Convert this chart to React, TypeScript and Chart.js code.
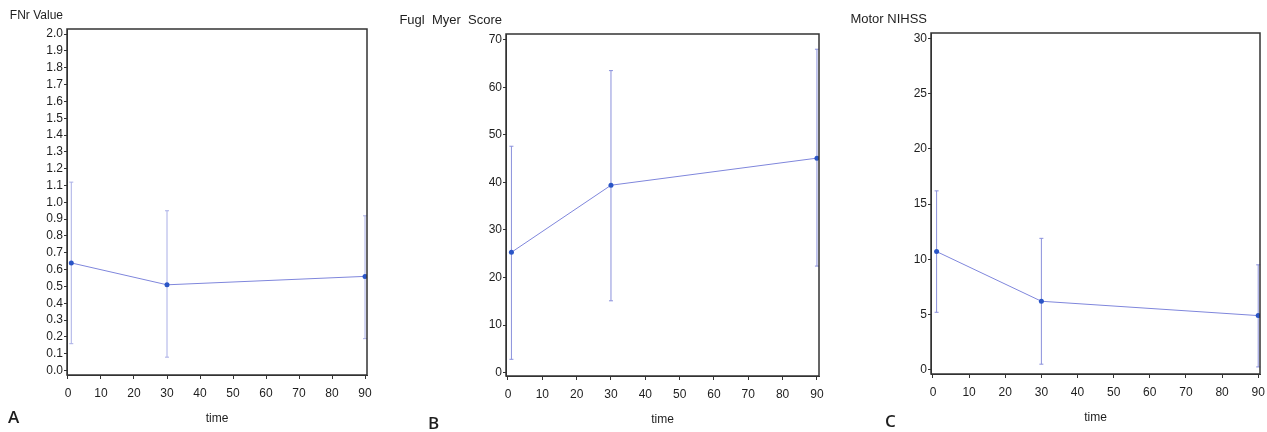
import React, { useEffect, useRef } from "react";
import { Chart, registerables } from "chart.js";

Chart.register(...registerables);

// ---- data ----
const times = [1, 30, 90];
const xTicks = [0, 10, 20, 30, 40, 50, 60, 70, 80, 90];

const fnrMean = [0.64, 0.51, 0.56];
const fnrLow = [0.16, 0.08, 0.19];
const fnrHigh = [1.12, 0.95, 0.92];
const fnrTicks = [0, 0.1, 0.2, 0.3, 0.4, 0.5, 0.6, 0.7, 0.8, 0.9, 1.0, 1.1, 1.2, 1.3, 1.4, 1.5, 1.6, 1.7, 1.8, 1.9, 2.0];

const fmMean = [25.3, 39.4, 45.1];
const fmLow = [2.8, 15.1, 22.4];
const fmHigh = [47.6, 63.5, 68.0];
const fmTicks = [0, 10, 20, 30, 40, 50, 60, 70];

const nihssMean = [10.7, 6.2, 4.9];
const nihssLow = [5.2, 0.5, 0.25];
const nihssHigh = [16.2, 11.9, 9.5];
const nihssTicks = [0, 5, 10, 15, 20, 25, 30];

const W = 1267;
const H = 432;
const Y_AXIS_W = 40;
const X_AXIS_H = 51;
const FONT = "'Liberation Sans', Arial, sans-serif";

type Panel = {
  title: string;
  titleSize: number;
  letter: string;
  mean: number[];
  low: number[];
  high: number[];
  yTicks: number[];
  decimals: number;
  yMin: number;
  yMax: number;
  xMin: number;
  xMax: number;
  barColor: string;
  box: { left: number; right: number; top: number; bottom: number };
  letterDx: number;
  letterDy: number;
};

const panels: Panel[] = [
  {
    title: "FNr Value", titleSize: 12, letter: "A",
    mean: fnrMean, low: fnrLow, high: fnrHigh, yTicks: fnrTicks, decimals: 1,
    yMin: -0.026, yMax: 2.03, xMin: -0.3, xMax: 90.6, barColor: "#a9aee6",
    box: { left: 67, right: 367, top: 29, bottom: 375 },
    letterDx: -59, letterDy: 43,
  },
  {
    title: "Fugl  Myer  Score", titleSize: 13, letter: "B",
    mean: fmMean, low: fmLow, high: fmHigh, yTicks: fmTicks, decimals: 0,
    yMin: -0.71, yMax: 71.2, xMin: -0.58, xMax: 90.6, barColor: "#8a90dc",
    box: { left: 506, right: 819, top: 34, bottom: 376 },
    letterDx: -78, letterDy: 48,
  },
  {
    title: "Motor NIHSS", titleSize: 13, letter: "C",
    mean: nihssMean, low: nihssLow, high: nihssHigh, yTicks: nihssTicks, decimals: 0,
    yMin: -0.39, yMax: 30.5, xMin: -0.55, xMax: 90.5, barColor: "#8a90dc",
    box: { left: 931, right: 1260, top: 33, bottom: 374 },
    letterDx: -46, letterDy: 48,
  },
];

const panelPlugin = {
  id: "panelDeco",
  beforeDatasetsDraw(chart: any, _args: any, opts: any) {
    const { ctx } = chart;
    const xs = chart.scales.x;
    const ys = chart.scales.y;
    ctx.save();
    ctx.strokeStyle = opts.barColor;
    ctx.lineWidth = 1;
    for (let i = 0; i < opts.times.length; i++) {
      const x = xs.getPixelForValue(opts.times[i]);
      const yl = ys.getPixelForValue(opts.low[i]);
      const yh = ys.getPixelForValue(opts.high[i]);
      ctx.beginPath();
      ctx.moveTo(x, yl);
      ctx.lineTo(x, yh);
      ctx.moveTo(x - 2, yl);
      ctx.lineTo(x + 2, yl);
      ctx.moveTo(x - 2, yh);
      ctx.lineTo(x + 2, yh);
      ctx.stroke();
    }
    ctx.restore();
  },
  afterDraw(chart: any, _args: any, opts: any) {
    const { ctx, chartArea } = chart;
    ctx.save();
    ctx.strokeStyle = "#333";
    ctx.lineWidth = 1.5;
    ctx.strokeRect(chartArea.left, chartArea.top, chartArea.right - chartArea.left, chartArea.bottom - chartArea.top);
    ctx.fillStyle = "#1e1e1e";
    ctx.font = `${opts.titleSize}px ${FONT}`;
    ctx.textAlign = "right";
    ctx.textBaseline = "middle";
    ctx.fillText(opts.title, chartArea.left - 4, chartArea.top - 13.5);
    ctx.font = `600 17px 'Open Sans', ${FONT}`;
    ctx.textAlign = "left";
    ctx.fillText(opts.letter, chartArea.left + opts.letterDx, chartArea.bottom + opts.letterDy);
    ctx.restore();
  },
};

function PanelChart({ p }: { p: Panel }) {
  const ref = useRef<HTMLCanvasElement>(null);
  useEffect(() => {
    if (!ref.current) return;
    const chart = new Chart(ref.current, {
      type: "line",
      data: {
        datasets: [
          {
            data: times.map((t, i) => ({ x: t, y: p.mean[i] })),
            borderColor: "#7f86dc",
            borderWidth: 1,
            pointBackgroundColor: "#2a55c6",
            pointBorderColor: "#2a55c6",
            pointRadius: 2.5,
            pointBorderWidth: 0,
            tension: 0,
            fill: false,
          },
        ],
      },
      options: {
        responsive: false,
        animation: false,
        devicePixelRatio: 1,
        layout: {
          padding: {
            left: p.box.left - Y_AXIS_W,
            right: W - p.box.right,
            top: p.box.top,
            bottom: H - p.box.bottom - X_AXIS_H,
          },
        },
        plugins: {
          legend: { display: false },
          tooltip: { enabled: false },
          panelDeco: {
            times, low: p.low, high: p.high, title: p.title, titleSize: p.titleSize, letter: p.letter,
            letterDx: p.letterDx, letterDy: p.letterDy, barColor: p.barColor,
          },
        } as any,
        scales: {
          x: {
            type: "linear",
            min: p.xMin,
            max: p.xMax,
            afterBuildTicks: (axis: any) => {
              axis.ticks = xTicks.map((v) => ({ value: v }));
            },
            afterFit: (axis: any) => {
              axis.height = X_AXIS_H;
              axis.paddingLeft = 0;
              axis.paddingRight = 0;
            },
            ticks: {
              autoSkip: false,
              maxRotation: 0,
              padding: 7,
              color: "#1e1e1e",
              font: { family: FONT, size: 12 },
              callback: (v: any) => String(v),
            },
            grid: { drawOnChartArea: false, drawTicks: true, tickLength: 4, color: "#333" },
            border: { display: true, color: "#333" },
            title: {
              display: true,
              text: "time",
              color: "#1e1e1e",
              font: { family: FONT, size: 12 },
              padding: 0,
            },
          },
          y: {
            type: "linear",
            min: p.yMin,
            max: p.yMax,
            afterBuildTicks: (axis: any) => {
              axis.ticks = p.yTicks.map((v) => ({ value: v }));
            },
            afterFit: (axis: any) => {
              axis.width = Y_AXIS_W;
              axis.paddingTop = 0;
              axis.paddingBottom = 0;
            },
            ticks: {
              autoSkip: false,
              padding: 1,
              color: "#1e1e1e",
              font: { family: FONT, size: 12 },
              callback: (v: any) => Number(v).toFixed(p.decimals),
            },
            grid: { drawOnChartArea: false, drawTicks: true, tickLength: 3, color: "#333" },
            border: { display: true, color: "#333" },
          },
        },
      },
      plugins: [panelPlugin],
    } as any);
    return () => chart.destroy();
  }, [p]);
  return (
    <canvas
      ref={ref}
      width={W}
      height={H}
      style={{ position: "absolute", left: 0, top: 0, width: W, height: H, pointerEvents: "none" }}
    />
  );
}

export default function App() {
  return (
    <div style={{ position: "absolute", left: 0, top: 0, width: W, height: H, background: "#fff", overflow: "hidden" }}>
      {panels.map((p) => (
        <PanelChart key={p.letter} p={p} />
      ))}
    </div>
  );
}
